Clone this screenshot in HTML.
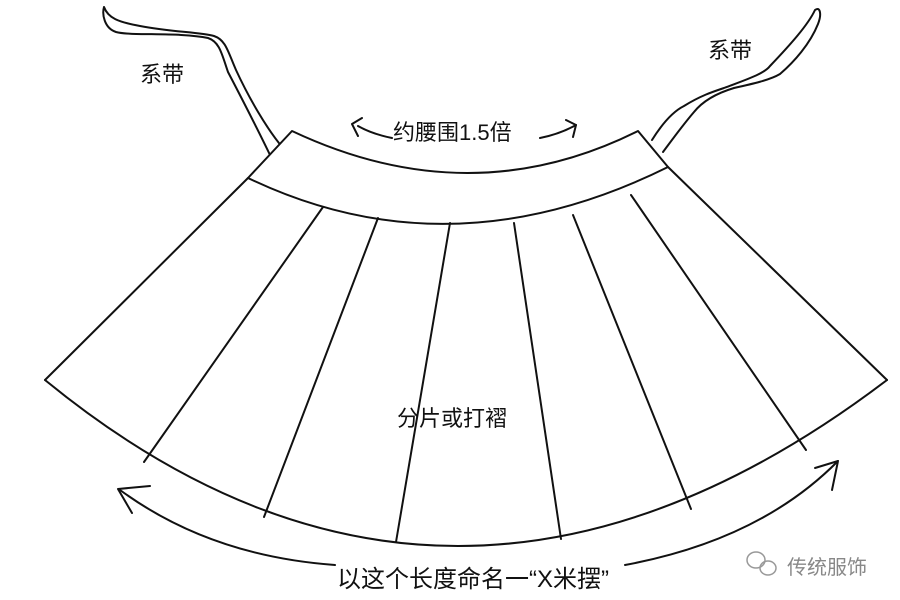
<!DOCTYPE html>
<html><head><meta charset="utf-8"><style>
html,body{margin:0;padding:0;background:#fff;}
svg{display:block}
text{font-family:"Liberation Sans","Noto Sans CJK SC",sans-serif;fill:#111}
</style></head><body>
<svg width="900" height="600" viewBox="0 0 900 600" xmlns="http://www.w3.org/2000/svg">
<g fill="none" stroke="#111" stroke-width="2" stroke-linejoin="round" stroke-linecap="round">
<path d="M271,157 C258,130 240,95 228,72 C222,55 220,42 208,38 C180,32 130,36 116,32 C104,28 102,14 104,7 C108,18 118,22 140,26 C170,32 200,32 214,36 C226,40 228,52 236,70 C248,96 266,128 283,148"/>
<path d="M652,140 C662,124 672,112 684,106 C700,96 712,92 724,88 C745,80 764,74 770,66 C790,45 808,25 815,10 C820,6 822,14 818,24 C810,44 794,62 780,74 C770,80 752,84 734,88 C714,94 702,102 694,112 C682,126 672,140 663,152"/>
<path d="M292,131 Q470,215 638,131 L668,167 Q450,275 248,178 Z" fill="#fff"/>
<path d="M248,178 L45,380"/>
<path d="M668,167 L887,380"/>
<path d="M45,380 Q450,712 887,380"/>
<path d="M323,207 L144,462"/>
<path d="M378,218 L264,517"/>
<path d="M450,223 L396,542"/>
<path d="M514,223 L561,539"/>
<path d="M573,215 L691,509"/>
<path d="M631,195 L806,450"/>
<path d="M358,126 Q372,134 392,138"/>
<path d="M352,124 L362,118 M352,124 L358,136"/>
<path d="M540,138 Q560,134 576,125"/>
<path d="M576,125 L566,120 M576,125 L573,137"/>
<path d="M120,490 Q210,556 335,565"/>
<path d="M625,565 Q760,540 838,461"/>
<path d="M118,489 L150,486 M118,489 L132,513"/>
<path d="M838,461 L815,468 M838,461 L832,490"/>
</g>
<text x="140" y="82" font-size="22">系带</text>
<text x="708" y="58" font-size="22">系带</text>
<text x="393" y="140" font-size="22">约腰围1.5倍</text>
<text x="397" y="426" font-size="22">分片或打褶</text>
<text x="337" y="587" font-size="24">以这个长度命名一“X米摆”</text>
<g stroke="#999" fill="none" stroke-width="1.5">
<ellipse cx="756" cy="560" rx="9" ry="8"/>
<ellipse cx="768" cy="568" rx="8" ry="7"/>
</g>
<text x="787" y="574" font-size="20" style="fill:#888">传统服饰</text>
</svg>
</body></html>
